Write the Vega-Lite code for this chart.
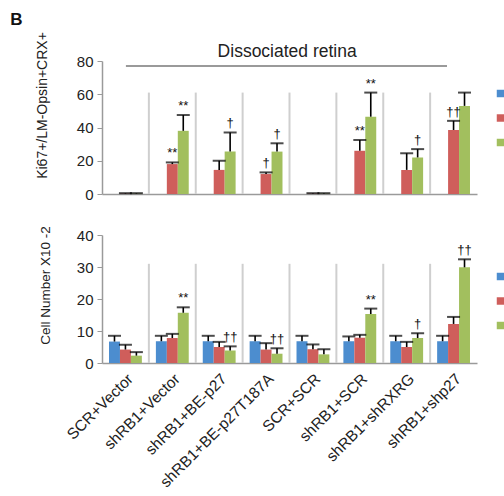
{
  "$schema": "https://vega.github.io/schema/vega-lite/v6.json",
  "padding": {"left": 10, "top": 10, "right": 0, "bottom": 2},
  "title": {"text": "B", "anchor": "start", "frame": "bounds", "fontSize": 17, "fontWeight": "bold", "font": "Liberation Sans", "color": "#111", "dx": -25, "offset": 3},
  "config": {
    "font": "Liberation Sans",
    "view": {"stroke": null},
    "axis": {"labelFont": "Liberation Sans", "titleFont": "Liberation Sans", "labelColor": "#222", "titleColor": "#222", "domainColor": "#9a9a9a", "domainWidth": 1.5, "tickColor": "#9a9a9a", "grid": false, "labelFontSize": 15, "titleFontWeight": "normal", "labelOverlap": false},
    "legend": {"labelFont": "Liberation Sans"}
  },
  "datasets": {
    "groups": [
      {"cat": "shRB1+Vector"}, {"cat": "shRB1+BE-p27"}, {"cat": "shRB1+BE-p27T187A"}, {"cat": "SCR+SCR"},
      {"cat": "shRB1+SCR"}, {"cat": "shRB1+shRXRG"}, {"cat": "shRB1+shp27"}
    ],
    "top": [
      {"cat": "SCR+Vector", "series": "Series 2", "value": 0.2, "err": 0.5},
      {"cat": "SCR+Vector", "series": "Series 3", "value": 0.2, "err": 0.5},
      {"cat": "shRB1+Vector", "series": "Series 2", "value": 18, "err": 19, "sig": "**"},
      {"cat": "shRB1+Vector", "series": "Series 3", "value": 38, "err": 47.5, "sig": "**"},
      {"cat": "shRB1+BE-p27", "series": "Series 2", "value": 14.5, "err": 20},
      {"cat": "shRB1+BE-p27", "series": "Series 3", "value": 25.5, "err": 37, "sig": "†"},
      {"cat": "shRB1+BE-p27T187A", "series": "Series 2", "value": 12, "err": 13, "sig": "†"},
      {"cat": "shRB1+BE-p27T187A", "series": "Series 3", "value": 25.5, "err": 30.5, "sig": "†"},
      {"cat": "SCR+SCR", "series": "Series 2", "value": 0.2, "err": 0.5},
      {"cat": "SCR+SCR", "series": "Series 3", "value": 0.2, "err": 0.5},
      {"cat": "shRB1+SCR", "series": "Series 2", "value": 26, "err": 32.5, "sig": "**"},
      {"cat": "shRB1+SCR", "series": "Series 3", "value": 46.5, "err": 61, "sig": "**"},
      {"cat": "shRB1+shRXRG", "series": "Series 2", "value": 14.5, "err": 24.5},
      {"cat": "shRB1+shRXRG", "series": "Series 3", "value": 22, "err": 27, "sig": "†"},
      {"cat": "shRB1+shp27", "series": "Series 2", "value": 38.5, "err": 44, "sig": "††"},
      {"cat": "shRB1+shp27", "series": "Series 3", "value": 53, "err": 61}
    ],
    "bottom": [
      {"cat": "SCR+Vector", "series": "Series 1", "value": 6.7, "err": 8.5},
      {"cat": "SCR+Vector", "series": "Series 2", "value": 4.2, "err": 5.7},
      {"cat": "SCR+Vector", "series": "Series 3", "value": 2.3, "err": 3.4},
      {"cat": "shRB1+Vector", "series": "Series 1", "value": 6.8, "err": 8.5},
      {"cat": "shRB1+Vector", "series": "Series 2", "value": 7.8, "err": 9.1},
      {"cat": "shRB1+Vector", "series": "Series 3", "value": 15.7, "err": 17.4, "sig": "**"},
      {"cat": "shRB1+BE-p27", "series": "Series 1", "value": 6.8, "err": 8.5},
      {"cat": "shRB1+BE-p27", "series": "Series 2", "value": 5.0, "err": 6.6},
      {"cat": "shRB1+BE-p27", "series": "Series 3", "value": 3.9, "err": 5.2, "sig": "††"},
      {"cat": "shRB1+BE-p27T187A", "series": "Series 1", "value": 6.8, "err": 8.5},
      {"cat": "shRB1+BE-p27T187A", "series": "Series 2", "value": 4.2, "err": 6.2},
      {"cat": "shRB1+BE-p27T187A", "series": "Series 3", "value": 2.9, "err": 4.6, "sig": "††"},
      {"cat": "SCR+SCR", "series": "Series 1", "value": 6.8, "err": 8.5},
      {"cat": "SCR+SCR", "series": "Series 2", "value": 4.3, "err": 5.8},
      {"cat": "SCR+SCR", "series": "Series 3", "value": 2.7, "err": 4.3},
      {"cat": "shRB1+SCR", "series": "Series 1", "value": 6.8, "err": 8.3},
      {"cat": "shRB1+SCR", "series": "Series 2", "value": 7.9, "err": 8.8},
      {"cat": "shRB1+SCR", "series": "Series 3", "value": 15.3, "err": 17.0, "sig": "**"},
      {"cat": "shRB1+shRXRG", "series": "Series 1", "value": 6.8, "err": 8.5},
      {"cat": "shRB1+shRXRG", "series": "Series 2", "value": 5.0, "err": 6.6},
      {"cat": "shRB1+shRXRG", "series": "Series 3", "value": 7.8, "err": 9.3, "sig": "†"},
      {"cat": "shRB1+shp27", "series": "Series 1", "value": 6.8, "err": 8.5},
      {"cat": "shRB1+shp27", "series": "Series 2", "value": 12.2, "err": 14.4},
      {"cat": "shRB1+shp27", "series": "Series 3", "value": 29.9, "err": 32.4, "sig": "††"}
    ]
  },
  "spacing": 23,
  "resolve": {"scale": {"color": "independent"}, "legend": {"color": "independent"}},
  "vconcat": [
    {
      "width": 375,
      "height": 133,
      "resolve": {"scale": {"x": "independent"}, "axis": {"x": "independent", "y": "independent"}},
      "layer": [
        {
          "resolve": {"axis": {"x": "independent", "y": "independent"}},
          "layer": [
            {
              "data": {"name": "top"},
              "mark": {"type": "bar"},
              "encoding": {
                "x": {"field": "cat", "type": "nominal", "scale": {"domain": ["SCR+Vector", "shRB1+Vector", "shRB1+BE-p27", "shRB1+BE-p27T187A", "SCR+SCR", "shRB1+SCR", "shRB1+shRXRG", "shRB1+shp27"], "paddingInner": 0, "paddingOuter": 0}, "axis": {"title": null, "labels": false, "ticks": false}},
                "xOffset": {"field": "series", "type": "nominal", "scale": {"domain": ["Series 1", "Series 2", "Series 3"], "paddingInner": 0, "paddingOuter": 0.64}},
                "y": {"field": "value", "type": "quantitative", "scale": {"domain": [0, 80], "nice": false}, "axis": {"title": "Ki67+/LM-Opsin+CRX+", "values": [0, 20, 40, 60, 80], "tickSize": 5, "labelPadding": 4, "labelFontSize": 15, "labelOverlap": false, "titleFontSize": 14, "titlePadding": 27, "titleY": 44, "titleAlign": "center"}},
                "color": {"field": "series", "type": "nominal", "scale": {"domain": ["Series 1", "Series 2", "Series 3"], "range": ["#4C8DCF", "#CF5E5B", "#A2BF5E"]}, "legend": {"orient": "none", "legendX": 392, "legendY": 26, "title": null, "symbolType": "square", "symbolSize": 56, "symbolStrokeWidth": 0, "labelExpr": "''", "labelFontSize": 13, "rowPadding": 10.5}}
              }
            },
            {
              "data": {"name": "groups"},
              "mark": {"type": "rule", "color": "#cfcfcf", "strokeWidth": 2},
              "encoding": {
                "x": {"field": "cat", "type": "nominal", "bandPosition": 0, "axis": null},
                "y": {"datum": 0, "type": "quantitative", "axis": null},
                "y2": {"datum": 61}
              }
            },
            {
              "data": {"name": "top"},
              "mark": {"type": "rule", "color": "#000", "strokeWidth": 1.6},
              "encoding": {
                "x": {"field": "cat", "type": "nominal", "axis": null},
                "xOffset": {"field": "series", "type": "nominal"},
                "y": {"field": "value", "type": "quantitative", "axis": null},
                "y2": {"field": "err"}
              }
            },
            {
              "data": {"name": "top"},
              "mark": {"type": "tick", "color": "#000", "orient": "horizontal", "size": 13, "thickness": 2},
              "encoding": {
                "x": {"field": "cat", "type": "nominal", "axis": null},
                "xOffset": {"field": "series", "type": "nominal"},
                "y": {"field": "err", "type": "quantitative", "axis": null}
              }
            },
            {
              "data": {"name": "top"},
              "transform": [{"filter": "datum.sig"}],
              "mark": {"type": "text", "color": "#111", "fontSize": 13, "dy": -5, "baseline": "alphabetic"},
              "encoding": {
                "x": {"field": "cat", "type": "nominal", "axis": null},
                "xOffset": {"field": "series", "type": "nominal"},
                "y": {"field": "err", "type": "quantitative", "axis": null},
                "text": {"field": "sig"}
              }
            }
          ]
        },
        {
          "data": {"values": [{}]},
          "resolve": {"axis": {"x": "independent", "y": "independent"}},
          "layer": [
            {
              "mark": {"type": "rule", "color": "#9a9a9a", "strokeWidth": 2},
              "encoding": {
                "x": {"datum": 0.51, "type": "quantitative", "scale": {"domain": [0, 8], "nice": false}, "axis": null},
                "x2": {"datum": 7.36},
                "y": {"datum": 77, "type": "quantitative", "axis": null}
              }
            },
            {
              "mark": {"type": "text", "color": "#222", "fontSize": 17.5, "baseline": "alphabetic", "align": "center"},
              "encoding": {
                "x": {"datum": 3.95, "type": "quantitative", "axis": null},
                "y": {"datum": 82.4, "type": "quantitative", "axis": null},
                "text": {"value": "Dissociated retina"}
              }
            }
          ]
        }
      ]
    },
    {
      "width": 375,
      "height": 128,
      "resolve": {"axis": {"x": "independent", "y": "independent"}},
      "layer": [
        {
          "data": {"name": "bottom"},
          "mark": {"type": "bar"},
          "encoding": {
            "x": {"field": "cat", "type": "nominal", "scale": {"domain": ["SCR+Vector", "shRB1+Vector", "shRB1+BE-p27", "shRB1+BE-p27T187A", "SCR+SCR", "shRB1+SCR", "shRB1+shRXRG", "shRB1+shp27"], "paddingInner": 0, "paddingOuter": 0}, "axis": {"title": null, "labelAngle": -45, "labelFontSize": 15.5, "ticks": false, "labelPadding": 8}},
            "xOffset": {"field": "series", "type": "nominal", "scale": {"domain": ["Series 1", "Series 2", "Series 3"], "paddingInner": 0, "paddingOuter": 0.64}},
            "y": {"field": "value", "type": "quantitative", "scale": {"domain": [0, 40], "nice": false}, "axis": {"title": "Cell Number X10 -2", "values": [0, 10, 20, 30, 40], "tickSize": 5, "labelPadding": 4, "labelFontSize": 15, "labelOverlap": false, "titleFontSize": 13.5, "titlePadding": 24, "titleY": 50, "titleAlign": "center"}},
            "color": {"field": "series", "type": "nominal", "scale": {"domain": ["Series 1", "Series 2", "Series 3"], "range": ["#4C8DCF", "#CF5E5B", "#A2BF5E"]}, "legend": {"orient": "none", "legendX": 392, "legendY": 35, "title": null, "symbolType": "square", "symbolSize": 56, "symbolStrokeWidth": 0, "labelExpr": "''", "labelFontSize": 13, "rowPadding": 10.5}}
          }
        },
        {
          "data": {"name": "groups"},
          "mark": {"type": "rule", "color": "#cfcfcf", "strokeWidth": 2},
          "encoding": {
            "x": {"field": "cat", "type": "nominal", "bandPosition": 0, "axis": null},
            "y": {"datum": 0, "type": "quantitative", "axis": null},
            "y2": {"datum": 31}
          }
        },
        {
          "data": {"name": "bottom"},
          "mark": {"type": "rule", "color": "#000", "strokeWidth": 1.6},
          "encoding": {
            "x": {"field": "cat", "type": "nominal", "axis": null},
            "xOffset": {"field": "series", "type": "nominal"},
            "y": {"field": "value", "type": "quantitative", "axis": null},
            "y2": {"field": "err"}
          }
        },
        {
          "data": {"name": "bottom"},
          "mark": {"type": "tick", "color": "#000", "orient": "horizontal", "size": 13, "thickness": 2},
          "encoding": {
            "x": {"field": "cat", "type": "nominal", "axis": null},
            "xOffset": {"field": "series", "type": "nominal"},
            "y": {"field": "err", "type": "quantitative", "axis": null}
          }
        },
        {
          "data": {"name": "bottom"},
          "transform": [{"filter": "datum.sig"}],
          "mark": {"type": "text", "color": "#111", "fontSize": 13, "dy": -5, "baseline": "alphabetic"},
          "encoding": {
            "x": {"field": "cat", "type": "nominal", "axis": null},
            "xOffset": {"field": "series", "type": "nominal"},
            "y": {"field": "err", "type": "quantitative", "axis": null},
            "text": {"field": "sig"}
          }
        }
      ]
    }
  ]
}
